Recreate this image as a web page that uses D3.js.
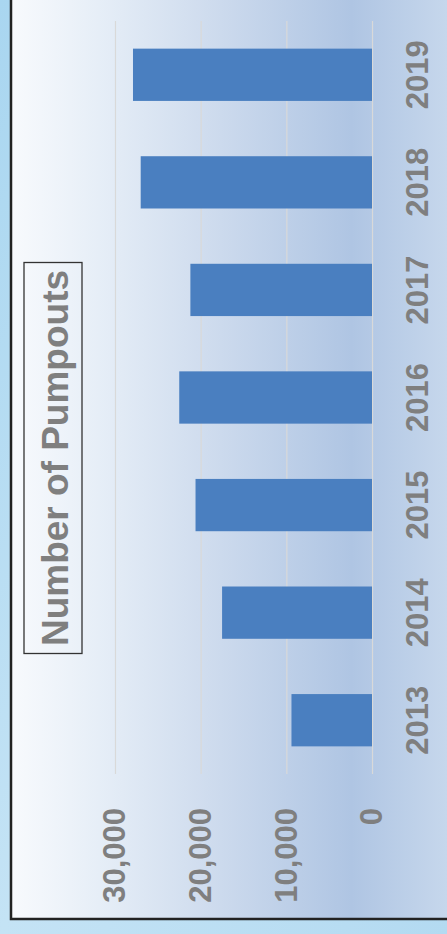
<!DOCTYPE html>
<html>
<head>
<meta charset="utf-8">
<script src="https://cdn.jsdelivr.net/npm/d3@7"></script>
<style>
  html, body { margin: 0; padding: 0; background: #b6dcf2; }
  svg { display: block; }
</style>
</head>
<body>
<svg id="chart" width="447" height="934"></svg>
<script>
"use strict";

// data
const years = ["2013", "2014", "2015", "2016", "2017", "2018", "2019"];
const pumpouts = [9400, 17500, 20600, 22500, 21200, 27000, 27900];
const valueTicks = [0, 10000, 20000, 30000];
const titleText = "Number of Pumpouts";

const W = 447, H = 934;
const svg = d3.select("#chart");
const defs = svg.append("defs");

// outside background, a bit of a sky-ish wash
const bg = defs.append("linearGradient").attr("id", "bg")
  .attr("x1", 0).attr("y1", 0).attr("x2", 1).attr("y2", 1);
bg.append("stop").attr("offset", "0%").attr("stop-color", "#a9d6f0");
bg.append("stop").attr("offset", "50%").attr("stop-color", "#c4e3f5");
bg.append("stop").attr("offset", "100%").attr("stop-color", "#b3daf1");
svg.append("rect").attr("width", W).attr("height", H).attr("fill", "url(#bg)");

// chart area fill: white on the left to blue, a bit lighter at the far right
const fill = defs.append("linearGradient").attr("id", "area")
  .attr("gradientUnits", "userSpaceOnUse")
  .attr("x1", 12).attr("y1", 0).attr("x2", W).attr("y2", 0);
[[0, "#f8fafd"], [0.2, "#e6eef7"], [0.45, "#cfdcee"], [0.78, "#afc5e3"], [1, "#c6d7ec"]]
  .forEach(([o, c]) => fill.append("stop").attr("offset", o).attr("stop-color", c));

svg.append("rect")
  .attr("x", 11).attr("y", -10)
  .attr("width", W + 20).attr("height", 929)
  .attr("fill", "url(#area)")
  .attr("stroke", "#222").attr("stroke-width", 2.5);

// the chart is a normal column chart turned 90 degrees counter-clockwise
const g = svg.append("g").attr("transform", `translate(0,${H}) rotate(-90)`);

const x = d3.scaleBand().domain(years).range([160, 913])
  .paddingInner(0.514).paddingOuter(0.257);
const y = d3.scaleLinear().domain([0, 30000]).range([372, 115]);

const labelFont = "'Liberation Sans', Arial, sans-serif";

// value axis + gridlines
const yAxis = g.append("g")
  .attr("transform", "translate(160,0)")
  .call(d3.axisLeft(y).tickValues(valueTicks).tickFormat(d3.format(","))
    .tickSize(-(913 - 160)).tickPadding(34));
yAxis.select(".domain").remove();
yAxis.selectAll(".tick line").attr("stroke", "#d9d9d9").attr("stroke-width", 1.2);
yAxis.selectAll(".tick text")
  .attr("fill", "#7f7f7f")
  .style("font", `bold 31px ${labelFont}`);

// bars
g.selectAll("rect.bar")
  .data(years.map((yr, i) => ({ yr, v: pumpouts[i] })))
  .enter().append("rect")
  .attr("class", "bar")
  .attr("x", d => x(d.yr))
  .attr("width", x.bandwidth())
  .attr("y", d => y(d.v))
  .attr("height", d => y(0) - y(d.v))
  .attr("fill", "#4a7fc0");

// category axis
const xAxis = g.append("g")
  .attr("transform", `translate(0,${y(0)})`)
  .call(d3.axisBottom(x).tickSize(0).tickPadding(34));
xAxis.select(".domain").remove();
xAxis.selectAll(".tick text")
  .attr("fill", "#7f7f7f")
  .style("font", `bold 31px ${labelFont}`);

// title in its box
g.append("rect")
  .attr("x", 280.5).attr("y", 24)
  .attr("width", 391).attr("height", 58)
  .attr("fill", "none").attr("stroke", "#333").attr("stroke-width", 1.3);
g.append("text")
  .attr("x", 476).attr("y", 68.3)
  .attr("text-anchor", "middle")
  .attr("fill", "#7f7f7f")
  .style("font", `bold 37px ${labelFont}`)
  .text(titleText);
</script>
</body>
</html>
